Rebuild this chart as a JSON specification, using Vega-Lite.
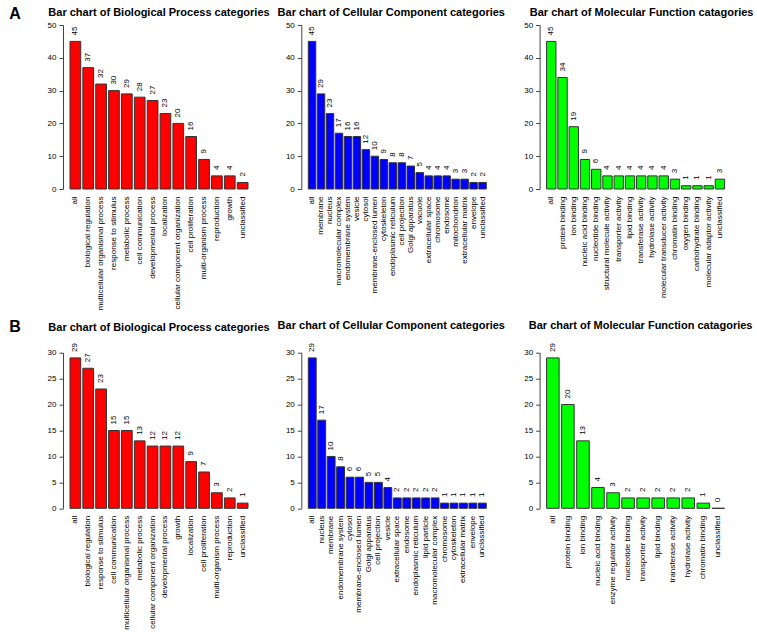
{
  "$schema": "https://vega.github.io/schema/vega-lite/v6.json",
  "background": "white",
  "padding": {"left": 8, "top": 5, "right": 5, "bottom": 5},
  "bounds": "flush",
  "spacing": 327.7,
  "config": {
    "font": "Liberation Sans",
    "view": {"stroke": null},
    "axis": {"labelFont": "Liberation Sans", "labelColor": "black", "grid": false, "titleFont": "Liberation Sans", "titleColor": "black"},
    "axisX": {"domain": false, "ticks": false, "labelAngle": 270, "labelFontSize": 8, "labelPadding": 7, "title": null, "labelOverlap": false, "labelLimit": 220, "labelBound": false},
    "axisY": {"domainColor": "#444", "tickColor": "#444", "tickSize": 4, "labelFontSize": 8, "labelPadding": 3, "offset": 7, "labelOverlap": false, "title": null},
    "title": {"fontSize": 11, "font": "Liberation Sans", "fontWeight": "bold", "anchor": "middle", "frame": "group", "color": "black", "baseline": "alphabetic"}
  },
  "vconcat": [
    {
      "bounds": "flush",
      "spacing": 60.3,
      "hconcat": [
        {
          "width": 178, "height": 164,
          "title": {"text": "Bar chart of Biological Process categories", "offset": -12.2},
          "data": {"values": [
            {"category": "all", "count": 45},
            {"category": "biological regulation", "count": 37},
            {"category": "multicellular organismal process", "count": 32},
            {"category": "response to stimulus", "count": 30},
            {"category": "metabolic process", "count": 29},
            {"category": "cell communication", "count": 28},
            {"category": "developmental process", "count": 27},
            {"category": "localization", "count": 23},
            {"category": "cellular component organization", "count": 20},
            {"category": "cell proliferation", "count": 16},
            {"category": "multi-organism process", "count": 9},
            {"category": "reproduction", "count": 4},
            {"category": "growth", "count": 4},
            {"category": "unclassified", "count": 2}
          ]},
          "encoding": {
            "x": {"field": "category", "type": "nominal", "sort": null, "scale": {"paddingInner": 0.1667, "paddingOuter": 0}},
            "y": {"field": "count", "type": "quantitative", "scale": {"domain": [0, 50], "nice": false}, "axis": {"values": [0, 10, 20, 30, 40, 50], "title": "A", "titleAngle": 0, "titleFontSize": 16, "titleFontWeight": "bold", "titleAlign": "left", "titleBaseline": "alphabetic", "titleX": -54.3, "titleY": -6.7}}
          },
          "layer": [
            {"mark": {"type": "bar", "fill": "#FF0000", "stroke": "#333333", "strokeWidth": 1}},
            {"mark": {"type": "text", "angle": 270, "align": "left", "baseline": "middle", "dx": 6, "fontSize": 8, "color": "black"}, "encoding": {"text": {"field": "count", "type": "quantitative"}}}
          ]
        },
        {
          "width": 178, "height": 164,
          "title": {"text": "Bar chart of Cellular Component categories", "offset": 3, "dx": -6},
          "data": {"values": [
            {"category": "all", "count": 45},
            {"category": "membrane", "count": 29},
            {"category": "nucleus", "count": 23},
            {"category": "macromolecular complex", "count": 17},
            {"category": "endomembrane system", "count": 16},
            {"category": "vesicle", "count": 16},
            {"category": "cytosol", "count": 12},
            {"category": "membrane-enclosed lumen", "count": 10},
            {"category": "cytoskeleton", "count": 9},
            {"category": "endoplasmic reticulum", "count": 8},
            {"category": "cell projection", "count": 8},
            {"category": "Golgi apparatus", "count": 7},
            {"category": "vacuole", "count": 5},
            {"category": "extracellular space", "count": 4},
            {"category": "chromosome", "count": 4},
            {"category": "endosome", "count": 4},
            {"category": "mitochondrion", "count": 3},
            {"category": "extracellular matrix", "count": 3},
            {"category": "envelope", "count": 2},
            {"category": "unclassified", "count": 2}
          ]},
          "encoding": {
            "x": {"field": "category", "type": "nominal", "sort": null, "scale": {"paddingInner": 0.1667, "paddingOuter": 0}},
            "y": {"field": "count", "type": "quantitative", "scale": {"domain": [0, 50], "nice": false}, "axis": {"values": [0, 10, 20, 30, 40, 50]}}
          },
          "layer": [
            {"mark": {"type": "bar", "fill": "#0000FF", "stroke": "#333333", "strokeWidth": 1}},
            {"mark": {"type": "text", "angle": 270, "align": "left", "baseline": "middle", "dx": 6, "fontSize": 8, "color": "black"}, "encoding": {"text": {"field": "count", "type": "quantitative"}}}
          ]
        },
        {
          "width": 178, "height": 164,
          "title": {"text": "Bar chart of Molecular Function catagories", "offset": 3, "dx": 6},
          "data": {"values": [
            {"category": "all", "count": 45},
            {"category": "protein binding", "count": 34},
            {"category": "ion binding", "count": 19},
            {"category": "nucleic acid binding", "count": 9},
            {"category": "nucleotide binding", "count": 6},
            {"category": "structural molecule activity", "count": 4},
            {"category": "transporter activity", "count": 4},
            {"category": "lipid binding", "count": 4},
            {"category": "transferase activity", "count": 4},
            {"category": "hydrolase activity", "count": 4},
            {"category": "molecular transducer activity", "count": 4},
            {"category": "chromatin binding", "count": 3},
            {"category": "oxygen binding", "count": 1},
            {"category": "carbohydrate binding", "count": 1},
            {"category": "molecular adaptor activity", "count": 1},
            {"category": "unclassified", "count": 3}
          ]},
          "encoding": {
            "x": {"field": "category", "type": "nominal", "sort": null, "scale": {"paddingInner": 0.1667, "paddingOuter": 0}},
            "y": {"field": "count", "type": "quantitative", "scale": {"domain": [0, 50], "nice": false}, "axis": {"values": [0, 10, 20, 30, 40, 50]}}
          },
          "layer": [
            {"mark": {"type": "bar", "fill": "#00FF00", "stroke": "#333333", "strokeWidth": 1}},
            {"mark": {"type": "text", "angle": 270, "align": "left", "baseline": "middle", "dx": 6, "fontSize": 8, "color": "black"}, "encoding": {"text": {"field": "count", "type": "quantitative"}}}
          ]
        }
      ]
    },
    {
      "bounds": "flush",
      "spacing": 60.3,
      "hconcat": [
        {
          "width": 178, "height": 155.6,
          "title": {"text": "Bar chart of Biological Process categories", "offset": -14},
          "data": {"values": [
            {"category": "all", "count": 29},
            {"category": "biological regulation", "count": 27},
            {"category": "response to stimulus", "count": 23},
            {"category": "cell communication", "count": 15},
            {"category": "multicellular organismal process", "count": 15},
            {"category": "metabolic process", "count": 13},
            {"category": "cellular component organization", "count": 12},
            {"category": "developmental process", "count": 12},
            {"category": "growth", "count": 12},
            {"category": "localization", "count": 9},
            {"category": "cell proliferation", "count": 7},
            {"category": "multi-organism process", "count": 3},
            {"category": "reproduction", "count": 2},
            {"category": "unclassified", "count": 1}
          ]},
          "encoding": {
            "x": {"field": "category", "type": "nominal", "sort": null, "scale": {"paddingInner": 0.1667, "paddingOuter": 0}},
            "y": {"field": "count", "type": "quantitative", "scale": {"domain": [0, 30], "nice": false}, "axis": {"values": [0, 5, 10, 15, 20, 25, 30], "title": "B", "titleAngle": 0, "titleFontSize": 16, "titleFontWeight": "bold", "titleAlign": "left", "titleBaseline": "alphabetic", "titleX": -54.3, "titleY": -21}}
          },
          "layer": [
            {"mark": {"type": "bar", "fill": "#FF0000", "stroke": "#333333", "strokeWidth": 1}},
            {"mark": {"type": "text", "angle": 270, "align": "left", "baseline": "middle", "dx": 6, "fontSize": 8, "color": "black"}, "encoding": {"text": {"field": "count", "type": "quantitative"}}}
          ]
        },
        {
          "width": 178, "height": 155.6,
          "title": {"text": "Bar chart of Cellular Component categories", "offset": 11.5, "dx": -6},
          "data": {"values": [
            {"category": "all", "count": 29},
            {"category": "nucleus", "count": 17},
            {"category": "membrane", "count": 10},
            {"category": "endomembrane system", "count": 8},
            {"category": "cytosol", "count": 6},
            {"category": "membrane-enclosed lumen", "count": 6},
            {"category": "Golgi apparatus", "count": 5},
            {"category": "cell projection", "count": 5},
            {"category": "vesicle", "count": 4},
            {"category": "extracellular space", "count": 2},
            {"category": "endosome", "count": 2},
            {"category": "endoplasmic reticulum", "count": 2},
            {"category": "lipid particle", "count": 2},
            {"category": "macromolecular complex", "count": 2},
            {"category": "chromosome", "count": 1},
            {"category": "cytoskeleton", "count": 1},
            {"category": "extracellular matrix", "count": 1},
            {"category": "envelope", "count": 1},
            {"category": "unclassified", "count": 1}
          ]},
          "encoding": {
            "x": {"field": "category", "type": "nominal", "sort": null, "scale": {"paddingInner": 0.1667, "paddingOuter": 0}},
            "y": {"field": "count", "type": "quantitative", "scale": {"domain": [0, 30], "nice": false}, "axis": {"values": [0, 5, 10, 15, 20, 25, 30]}}
          },
          "layer": [
            {"mark": {"type": "bar", "fill": "#0000FF", "stroke": "#333333", "strokeWidth": 1}},
            {"mark": {"type": "text", "angle": 270, "align": "left", "baseline": "middle", "dx": 6, "fontSize": 8, "color": "black"}, "encoding": {"text": {"field": "count", "type": "quantitative"}}}
          ]
        },
        {
          "width": 178, "height": 155.6,
          "title": {"text": "Bar chart of Molecular Function catagories", "offset": 11.5, "dx": 5},
          "data": {"values": [
            {"category": "all", "count": 29},
            {"category": "protein binding", "count": 20},
            {"category": "ion binding", "count": 13},
            {"category": "nucleic acid binding", "count": 4},
            {"category": "enzyme regulator activity", "count": 3},
            {"category": "nucleotide binding", "count": 2},
            {"category": "transporter activity", "count": 2},
            {"category": "lipid binding", "count": 2},
            {"category": "transferase activity", "count": 2},
            {"category": "hydrolase activity", "count": 2},
            {"category": "chromatin binding", "count": 1},
            {"category": "unclassified", "count": 0}
          ]},
          "encoding": {
            "x": {"field": "category", "type": "nominal", "sort": null, "scale": {"paddingInner": 0.1667, "paddingOuter": 0}},
            "y": {"field": "count", "type": "quantitative", "scale": {"domain": [0, 30], "nice": false}, "axis": {"values": [0, 5, 10, 15, 20, 25, 30]}}
          },
          "layer": [
            {"mark": {"type": "bar", "fill": "#00FF00", "stroke": "#333333", "strokeWidth": 1}},
            {"mark": {"type": "text", "angle": 270, "align": "left", "baseline": "middle", "dx": 6, "fontSize": 8, "color": "black"}, "encoding": {"text": {"field": "count", "type": "quantitative"}}}
          ]
        }
      ]
    }
  ]
}
